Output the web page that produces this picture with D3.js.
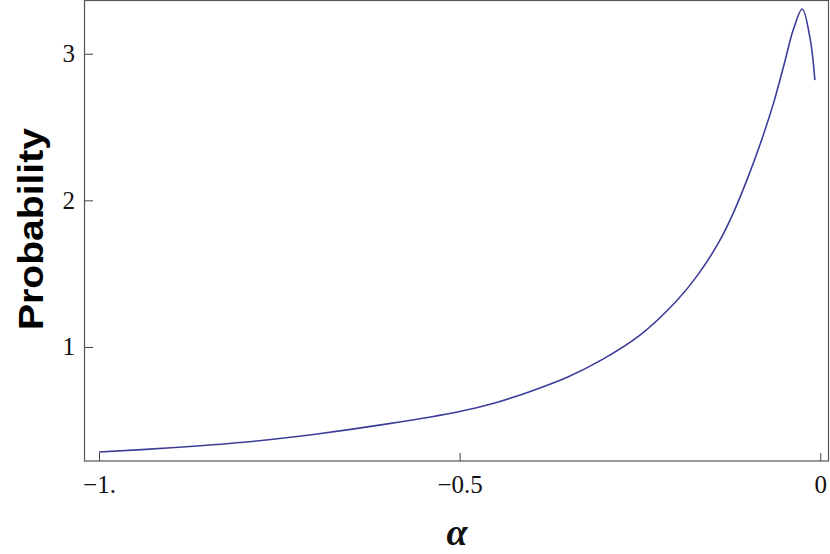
<!DOCTYPE html>
<html>
<head>
<meta charset="utf-8">
<script src="https://cdn.jsdelivr.net/npm/d3@7"></script>
<style>
  body { margin: 0; background: #fff; }
  svg { display: block; }
</style>
</head>
<body>
<svg id="chart"></svg>
<script>
// values
const alphaVals = [-1, -0.9, -0.8, -0.7, -0.6, -0.5, -0.45, -0.4, -0.35, -0.3, -0.25, -0.2,
                   -0.17, -0.14, -0.12, -0.1, -0.085, -0.065, -0.05, -0.037, -0.025, -0.014, -0.0075];
const probVals = [0.283, 0.312, 0.35, 0.405, 0.475, 0.56, 0.62, 0.70, 0.795, 0.92, 1.08, 1.31,
                  1.49, 1.72, 1.92, 2.16, 2.36, 2.66, 2.93, 3.17, 3.305, 3.1, 2.82];
const xTicks = [-1, -0.5, 0];
const xTickLabels = ["\u22121.", "\u22120.5", "0"];
const yTicks = [1, 2, 3];

const serifFont = "'Liberation Serif', 'Times New Roman', Times, serif";
const sansFont = "'Liberation Sans', Arial, Helvetica, sans-serif";

const width = 830, height = 554;
const plotL = 84, plotR = 829, plotT = 1, plotB = 461;

const svg = d3.select("#chart")
    .attr("width", width)
    .attr("height", height);

const xScale = d3.scaleLinear()
    .domain([-1.0208, 0.0121])
    .range([plotL, plotR]);
const yScale = d3.scaleLinear()
    .domain([0.222, 3.36])
    .range([plotB, plotT]);

// frame
svg.append("rect")
    .attr("x", plotL + 0.5).attr("y", plotT - 0.5)
    .attr("width", plotR - plotL - 1).attr("height", plotB - plotT + 0.5)
    .attr("fill", "none")
    .attr("stroke", "#555")
    .attr("stroke-width", 1.2);

// x axis ticks point inward
const xAxis = d3.axisBottom(xScale)
    .tickValues(xTicks)
    .tickSize(-8)
    .tickPadding(14)
    .tickFormat((d, i) => xTickLabels[i]);
const gx = svg.append("g")
    .attr("transform", "translate(0," + plotB + ")")
    .call(xAxis);
gx.select(".domain").remove();
gx.selectAll("line").attr("stroke", "#444");
gx.selectAll("text")
    .style("font-family", serifFont)
    .style("font-size", "25px")
    .attr("fill", "#111")
    .attr("dy", "0.7em");

const yAxis = d3.axisLeft(yScale)
    .tickValues(yTicks)
    .tickSize(-9)
    .tickPadding(9)
    .tickFormat(d3.format("d"));
const gy = svg.append("g")
    .attr("transform", "translate(" + plotL + ",0)")
    .call(yAxis);
gy.select(".domain").remove();
gy.selectAll("line").attr("stroke", "#444");
gy.selectAll("text")
    .style("font-family", serifFont)
    .style("font-size", "25px")
    .attr("fill", "#111");

// curve
const pts = alphaVals.map((a, i) => [a, probVals[i]]);
const line = d3.line()
    .x(d => xScale(d[0]))
    .y(d => yScale(d[1]))
    .curve(d3.curveCatmullRom.alpha(0.5));
svg.append("path")
    .datum(pts)
    .attr("d", line)
    .attr("fill", "none")
    .attr("stroke", "#3d3d99")
    .attr("stroke-width", 1.6);

// axis labels
svg.append("text")
    .attr("x", 457).attr("y", 545)
    .attr("text-anchor", "middle")
    .style("font-family", serifFont)
    .style("font-style", "italic")
    .style("font-weight", "bold")
    .style("font-size", "38px")
    .attr("fill", "#111")
    .text("\u03b1");

svg.append("text")
    .attr("transform", "translate(43,229) rotate(-90)")
    .attr("text-anchor", "middle")
    .style("font-family", sansFont)
    .style("font-weight", "bold")
    .style("font-size", "35px")
    .attr("textLength", 202)
    .attr("lengthAdjust", "spacingAndGlyphs")
    .attr("fill", "#000")
    .text("Probability");
</script>
</body>
</html>
